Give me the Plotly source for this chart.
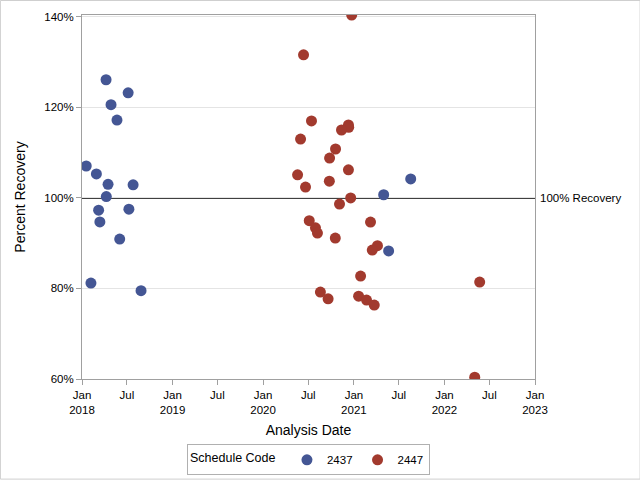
import plotly.graph_objects as go

# Schedule code 2437
dates_2437 = ["2018-01-18", "2018-02-06", "2018-02-28", "2018-03-09", "2018-03-14",
              "2018-04-08", "2018-04-09", "2018-04-16", "2018-04-28", "2018-05-22",
              "2018-06-02", "2018-07-06", "2018-07-09", "2018-07-26", "2018-08-27",
              "2021-05-01", "2021-05-21", "2021-08-18"]
rec_2437 = [107.05, 81.2, 105.3, 97.3, 94.7,
            126.1, 100.3, 103.0, 120.6, 117.2,
            90.9, 123.2, 97.5, 102.9, 79.5,
            100.7, 88.3, 104.2]

# Schedule code 2447
dates_2447 = ["2020-12-23", "2020-06-12", "2020-07-14", "2020-12-10", "2020-12-11",
              "2020-11-12", "2020-05-31", "2020-10-19", "2020-09-25", "2020-05-19",
              "2020-12-10", "2020-09-24", "2020-06-20", "2020-12-19", "2020-11-04",
              "2020-07-05", "2021-03-09", "2020-07-30", "2020-08-07", "2020-10-18",
              "2021-04-06", "2021-03-16", "2021-01-28", "2020-08-19", "2020-09-19",
              "2021-01-20", "2021-02-21", "2021-03-24", "2022-05-23", "2022-05-03"]
rec_2447 = [140.4, 131.6, 117.0, 116.1, 115.6,
            115.0, 113.0, 110.8, 108.8, 105.1,
            106.2, 103.7, 102.4, 100.0, 98.65,
            94.96, 94.67, 93.4, 92.24, 91.14,
            89.44, 88.49, 82.74, 79.2, 77.7,
            78.3, 77.44, 76.33, 81.4, 60.4]

tick_dates = ["2018-01-01", "2018-07-01", "2019-01-01", "2019-07-01", "2020-01-01",
              "2020-07-01", "2021-01-01", "2021-07-01", "2022-01-01", "2022-07-01",
              "2023-01-01"]
tick_labels = ["Jan<br>2018", "Jul", "Jan<br>2019", "Jul", "Jan<br>2020", "Jul",
               "Jan<br>2021", "Jul", "Jan<br>2022", "Jul", "Jan<br>2023"]
y_ticks = [60, 80, 100, 120, 140]
y_labels = ["60%", "80%", "100%", "120%", "140%"]
reference_value = 100

FONT = "Liberation Sans, Arial, sans-serif"
FS = 11.5

fig = go.Figure()
fig.add_trace(go.Scatter(x=dates_2437, y=rec_2437, mode="markers", name="2437",
                         marker=dict(color="#445694", size=11)))
fig.add_trace(go.Scatter(x=dates_2447, y=rec_2447, mode="markers", name="2447",
                         marker=dict(color="#A23A2E", size=11)))

fig.add_shape(type="line", xref="paper", x0=0, x1=1, yref="y",
              y0=reference_value, y1=reference_value,
              line=dict(color="black", width=1.5), layer="between")
fig.add_annotation(xref="paper", x=1, yref="y", y=reference_value, xanchor="left",
                   xshift=3, text="100% Recovery", showarrow=False,
                   font=dict(family=FONT, size=FS, color="black"))
# outer border
fig.add_shape(type="rect", xref="paper", yref="paper",
              x0=-0.1801, x1=1.2320, y0=-0.2750, y1=1.0398,
              line=dict(color="#CFCFCF", width=1), layer="below")

fig.update_layout(
    width=640, height=480,
    margin=dict(l=82, r=105, t=15, b=101, autoexpand=False),
    paper_bgcolor="white", plot_bgcolor="white",
    font=dict(family=FONT, size=FS, color="black"),
    showlegend=True,
    legend=dict(orientation="h", x=0.5, xanchor="center", y=-0.222, yanchor="middle",
                title=dict(text="Schedule Code ", side="left",
                           font=dict(family=FONT, size=12.5, color="black")),
                bordercolor="#B0B0B0", borderwidth=1,
                font=dict(family=FONT, size=FS, color="black"), itemwidth=30,
                tracegroupgap=0, valign="middle"),
    xaxis=dict(type="date", range=["2018-01-01", "2023-01-01"],
               tickvals=tick_dates, ticktext=tick_labels,
               ticks="outside", ticklen=5, tickcolor="#A0A0A0",
               showgrid=False, zeroline=False, automargin=False,
               showline=True, linecolor="#A0A0A0", mirror=True,
               title=dict(text="Analysis Date", standoff=10),
               tickfont=dict(size=FS)),
    yaxis=dict(range=[60, 140.4], tickvals=y_ticks, ticktext=y_labels,
               ticks="outside", ticklen=5, tickcolor="#A0A0A0",
               showgrid=True, gridcolor="#E4E4E4", zeroline=False, automargin=False,
               showline=True, linecolor="#A0A0A0", mirror=True,
               title=dict(text="Percent Recovery", standoff=15),
               tickfont=dict(size=FS)),
)

fig.write_html("out.html", config={"displayModeBar": False},
               post_script="document.body.style.margin='0';document.body.style.overflow='hidden';")
